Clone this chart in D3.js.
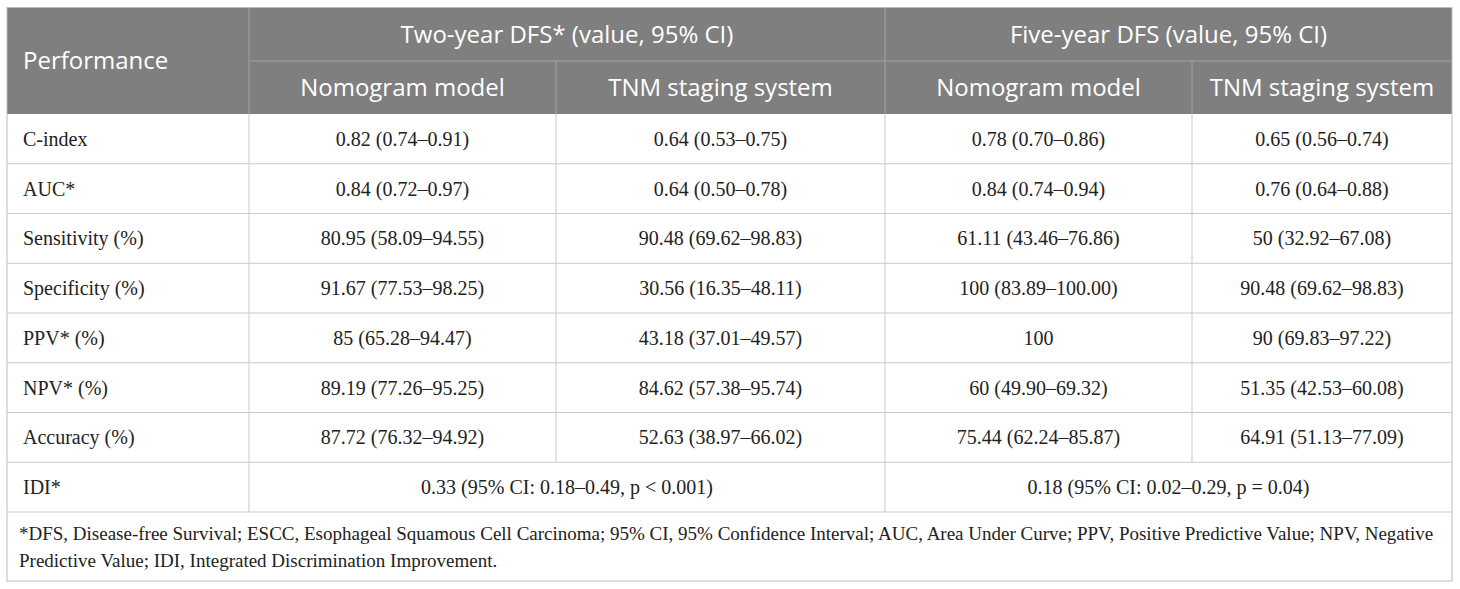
<!DOCTYPE html>
<html>
<head>
<meta charset="utf-8">
<script src="https://cdn.jsdelivr.net/npm/d3@7"></script>
<style>
  body { margin: 0; background: #fff; }
  svg { display: block; }
</style>
</head>
<body>
<script>
// table content
var groups = ['Two-year DFS* (value, 95% CI)', 'Five-year DFS (value, 95% CI)'];
var models = ['Nomogram model', 'TNM staging system'];
var metrics = ['C-index', 'AUC*', 'Sensitivity (%)', 'Specificity (%)', 'PPV* (%)', 'NPV* (%)', 'Accuracy (%)'];

var twoYearNomogram = ['0.82 (0.74\u20130.91)', '0.84 (0.72\u20130.97)', '80.95 (58.09\u201394.55)', '91.67 (77.53\u201398.25)', '85 (65.28\u201394.47)', '89.19 (77.26\u201395.25)', '87.72 (76.32\u201394.92)'];
var twoYearTNM = ['0.64 (0.53\u20130.75)', '0.64 (0.50\u20130.78)', '90.48 (69.62\u201398.83)', '30.56 (16.35\u201348.11)', '43.18 (37.01\u201349.57)', '84.62 (57.38\u201395.74)', '52.63 (38.97\u201366.02)'];
var fiveYearNomogram = ['0.78 (0.70\u20130.86)', '0.84 (0.74\u20130.94)', '61.11 (43.46\u201376.86)', '100 (83.89\u2013100.00)', '100', '60 (49.90\u201369.32)', '75.44 (62.24\u201385.87)'];
var fiveYearTNM = ['0.65 (0.56\u20130.74)', '0.76 (0.64\u20130.88)', '50 (32.92\u201367.08)', '90.48 (69.62\u201398.83)', '90 (69.83\u201397.22)', '51.35 (42.53\u201360.08)', '64.91 (51.13\u201377.09)'];

var idiLabel = 'IDI*';
var idiValues = ['0.33 (95% CI: 0.18\u20130.49, p < 0.001)', '0.18 (95% CI: 0.02\u20130.29, p = 0.04)'];

var footnote = [
  '*DFS, Disease-free Survival; ESCC, Esophageal Squamous Cell Carcinoma; 95% CI, 95% Confidence Interval; AUC, Area Under Curve; PPV, Positive Predictive Value; NPV, Negative',
  'Predictive Value; IDI, Integrated Discrimination Improvement.'
];

var width = 1460, height = 589;
var tableLeft = 7, tableRight = 1452;
var tableTop = 7.5, headSplit = 61, headBottom = 114, bodyBottom = 512, tableBottom = 581;

var colEdges = [tableLeft, 249, 556, 885, 1192, tableRight];
var headFont = '"Open Sans", "Noto Sans", sans-serif';
var bodyFont = '"Liberation Serif", "DejaVu Serif", serif';
var headSize = 24;

var svg = d3.select('body').append('svg')
    .attr('width', width)
    .attr('height', height);

// rows: 7 metrics + IDI
var rowNames = metrics.concat([idiLabel]);
var y = d3.scaleBand()
    .domain(rowNames)
    .range([headBottom, bodyBottom]);

var columns = [twoYearNomogram, twoYearTNM, fiveYearNomogram, fiveYearTNM];

// header background
svg.append('rect')
    .attr('x', tableLeft)
    .attr('y', tableTop)
    .attr('width', tableRight - tableLeft)
    .attr('height', headBottom - tableTop)
    .attr('fill', '#7f7f7f');

// header lines
var headLine = '#a3a3a3';
svg.append('line')
    .attr('x1', colEdges[1]).attr('x2', tableRight)
    .attr('y1', headSplit).attr('y2', headSplit)
    .attr('stroke', headLine).attr('stroke-width', 1);
[1, 3].forEach(function(i) {
    svg.append('line')
        .attr('x1', colEdges[i]).attr('x2', colEdges[i])
        .attr('y1', tableTop).attr('y2', headBottom)
        .attr('stroke', headLine);
});
[2, 4].forEach(function(i) {
    svg.append('line')
        .attr('x1', colEdges[i]).attr('x2', colEdges[i])
        .attr('y1', headSplit).attr('y2', headBottom)
        .attr('stroke', headLine);
});

// header text
svg.append('text')
    .attr('x', tableLeft + 16)
    .attr('y', (tableTop + headBottom) / 2)
    .attr('dy', '0.35em')
    .attr('font-family', headFont)
    .attr('font-size', headSize)
    .attr('fill', '#fff')
    .text('Performance');

svg.selectAll('.group')
    .data(groups)
    .enter().append('text')
        .attr('class', 'group')
        .attr('x', function(d, i) { return (colEdges[1 + i * 2] + colEdges[3 + i * 2]) / 2; })
        .attr('y', (tableTop + headSplit) / 2)
        .attr('dy', '0.35em')
        .attr('text-anchor', 'middle')
        .attr('font-family', headFont)
        .attr('font-size', headSize)
        .attr('fill', '#fff')
        .text(function(d) { return d; });

svg.selectAll('.model')
    .data([0, 1, 2, 3])
    .enter().append('text')
        .attr('class', 'model')
        .attr('x', function(i) { return (colEdges[1 + i] + colEdges[2 + i]) / 2; })
        .attr('y', (headSplit + headBottom) / 2)
        .attr('dy', '0.35em')
        .attr('text-anchor', 'middle')
        .attr('font-family', headFont)
        .attr('font-size', headSize)
        .attr('fill', '#fff')
        .text(function(i) { return models[i % 2]; });

// body grid
var gridColor = '#c9c9c9';
rowNames.forEach(function(r) {
    svg.append('line')
        .attr('x1', tableLeft).attr('x2', tableRight)
        .attr('y1', y(r) + y.bandwidth()).attr('y2', y(r) + y.bandwidth())
        .attr('stroke', gridColor);
});
[1, 3].forEach(function(i) {
    svg.append('line')
        .attr('x1', colEdges[i]).attr('x2', colEdges[i])
        .attr('y1', headBottom).attr('y2', bodyBottom)
        .attr('stroke', gridColor);
});
[2, 4].forEach(function(i) {
    svg.append('line')
        .attr('x1', colEdges[i]).attr('x2', colEdges[i])
        .attr('y1', headBottom).attr('y2', y(idiLabel))
        .attr('stroke', gridColor);
});

// outer border
svg.append('rect')
    .attr('x', tableLeft)
    .attr('y', tableTop)
    .attr('width', tableRight - tableLeft)
    .attr('height', tableBottom - tableTop)
    .attr('fill', 'none')
    .attr('stroke', '#bdbdbd');

// row labels
svg.selectAll('.label')
    .data(rowNames)
    .enter().append('text')
        .attr('class', 'label')
        .attr('x', tableLeft + 16)
        .attr('y', function(d) { return y(d) + y.bandwidth() / 2; })
        .attr('dy', '0.35em')
        .attr('font-family', bodyFont)
        .attr('font-size', 20)
        .attr('fill', '#222')
        .text(function(d) { return d; });

// cells
columns.forEach(function(col, ci) {
    svg.selectAll('.cell' + ci)
        .data(col)
        .enter().append('text')
            .attr('x', (colEdges[1 + ci] + colEdges[2 + ci]) / 2)
            .attr('y', function(d, i) { return y(metrics[i]) + y.bandwidth() / 2; })
            .attr('dy', '0.35em')
            .attr('text-anchor', 'middle')
            .attr('font-family', bodyFont)
            .attr('font-size', 20)
            .attr('fill', '#222')
            .text(function(d) { return d; });
});

svg.selectAll('.idi')
    .data(idiValues)
    .enter().append('text')
        .attr('x', function(d, i) { return (colEdges[1 + i * 2] + colEdges[3 + i * 2]) / 2; })
        .attr('y', y(idiLabel) + y.bandwidth() / 2)
        .attr('dy', '0.35em')
        .attr('text-anchor', 'middle')
        .attr('font-family', bodyFont)
        .attr('font-size', 20)
        .attr('fill', '#222')
        .text(function(d) { return d; });

// footnote
svg.selectAll('.foot')
    .data(footnote)
    .enter().append('text')
        .attr('x', tableLeft + 12)
        .attr('y', function(d, i) { return 533 + i * 27; })
        .attr('dy', '0.35em')
        .attr('font-family', bodyFont)
        .attr('font-size', 19)
        .attr('fill', '#222')
        .text(function(d) { return d; });
</script>
</body>
</html>
